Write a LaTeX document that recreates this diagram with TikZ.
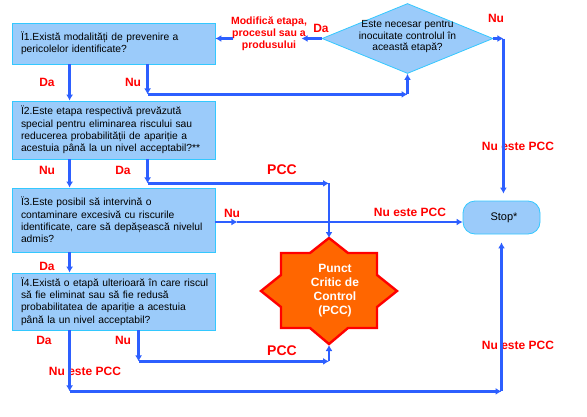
\documentclass[tikz,border=0pt]{standalone}
\usepackage{fontspec}
\setmainfont{Liberation Sans}
\usetikzlibrary{shapes.geometric,arrows.meta}
\definecolor{boxfill}{RGB}{155,203,250}
\definecolor{boxline}{RGB}{51,200,255}
\definecolor{flowblue}{RGB}{45,95,255}
\definecolor{labred}{RGB}{255,0,0}
\definecolor{starfill}{RGB}{255,102,0}
\tikzset{
  qbox/.style={draw=boxline, fill=boxfill, line width=0.8pt, rectangle, minimum width=203pt,
    text width=185pt, inner xsep=9pt, align=left, font=\fontsize{10.3}{12.3}\selectfont},
  flow/.style={draw=flowblue, line width=2.6pt, ->},
  lbl/.style={text=labred, font=\bfseries\fontsize{12}{14}\selectfont, inner sep=0pt},
  pcclbl/.style={text=labred, font=\bfseries\fontsize{14}{16}\selectfont, inner sep=0pt}
}
\begin{document}
\begin{tikzpicture}[x=1pt,y=-1pt,>={Latex[length=6pt,width=7pt]}]
\useasboundingbox (0,0) rectangle (587,416);

% questions
\node(i1)[qbox, minimum height=41pt] at (113.5,43.5) {Ï1.Există modalități de prevenire a\\pericolelor identificate?};
\node(i2)[qbox, minimum height=58pt] at (113.5,130) {Ï2.Este etapa respectivă prevăzută\\special pentru eliminarea riscului sau\\reducerea probabilității de apariție a\\acestuia până la un nivel acceptabil?**};
\node(i3)[qbox, minimum height=64pt] at (113.5,220) {Ï3.Este posibil să intervină o\\contaminare excesivă cu riscurile\\identificate, care să depășească nivelul\\admis?};
\node(i4)[qbox, minimum height=57pt] at (113.5,301.5) {\mbox{Ï4.Există o etapă ulterioară în care riscul}\\să fie eliminat sau să fie redusă\\probabilitatea de apariție a acestuia\\până la un nivel acceptabil?};

\node(q)[diamond, draw=boxline, fill=boxfill, line width=0.8pt, inner sep=0pt, minimum width=171pt, minimum height=70pt,
  label={[align=center, font=\fontsize{10.3}{11.5}\selectfont, yshift=1.5pt]center:Este necesar pentru\\inocuitate controlul în\\această etapă?}] at (407.5,38.5) {};

\node(stop)[draw=boxline, fill=boxfill, line width=0.8pt, rounded corners=12pt, minimum width=77pt, minimum height=33pt,
  font=\fontsize{11}{13}\selectfont] at (501.5,217.5) {\hspace{5pt}Stop*};

% star
\draw[draw=red, fill=starfill, line width=2.4pt, line join=miter]
  (329,238) -- (348,253) -- (377,253) -- (377,275) -- (397,291) -- (377,307) -- (377,328) -- (348,328)
  -- (329,344) -- (310,328) -- (281,328) -- (281,307) -- (261,291) -- (281,275) -- (281,253) -- (310,253) -- cycle;
\node(pcc)[align=center, text=white, font=\bfseries\fontsize{12}{14}\selectfont] at (335,291) {Punct\\Critic de\\Control\\(PCC)};
\coordinate(startop) at (329,238);
\coordinate(starbot) at (329,345);

% labels
\node(mod)[lbl, align=center, font=\bfseries\fontsize{10.5}{12}\selectfont] at (269,34) {Modifică etapa,\\procesul sau a\\produsului};
\node(lda0)[lbl] at (321,28) {Da};
\node(lnu0)[lbl] at (496,18) {Nu};
\node(lda1)[lbl] at (47,82) {Da};
\node(lnu1)[lbl] at (133,82) {Nu};
\node(lnu2)[lbl] at (47,170) {Nu};
\node(lda2)[lbl] at (123,170) {Da};
\node(lpcc2)[pcclbl] at (282,170) {PCC};
\node(lnu3)[lbl] at (232,213) {Nu};
\node(lnp3)[lbl] at (410,212) {Nu este PCC};
\node(lnp0)[lbl] at (518,146) {Nu este PCC};
\node(lda3)[lbl] at (47,266) {Da};
\node(lda4)[lbl] at (44,340) {Da};
\node(lnu4)[lbl] at (123,340) {Nu};
\node(lpcc4)[pcclbl] at (282,351) {PCC};
\node(lnp4)[lbl] at (85,371) {Nu este PCC};
\node(lnp5)[lbl] at (518,345) {Nu este PCC};

% connectors
\draw[flow] ([xshift=58pt]i1.south west) -- ([xshift=58pt]i2.north west);
\draw[flow] ([xshift=136pt]i1.south west) -- ++(0,30) coordinate (nu1);
\draw[flow] (nu1) -- (nu1 -| q.south);
\draw[flow] (nu1 -| q.south) -- (q.south);

\draw[flow] (q.west) -- ++(-20,0);
\draw[flow] ([xshift=18pt]i1.east |- q.west) -- (i1.east |- q.west);
\draw[flow] (q.east) -- ++(10,0) coordinate (nu0);
\draw[flow, shorten >=7pt] (nu0) -- (nu0 |- stop.north);

\draw[flow] ([xshift=58pt]i2.south west) -- ([xshift=58pt]i3.north west);
\draw[flow] ([xshift=136pt]i2.south west) -- ++(0,24) coordinate (da2);
\draw[flow] (da2) -- (da2 -| startop);
\draw[flow] (da2 -| startop) -- (startop);

\draw[flow] ([yshift=-2pt]i3.east) -- ++(22,0) coordinate (nu3);
\draw[flow] (nu3) -- (stop.west |- nu3);

\draw[flow] ([xshift=58pt]i3.south west) -- ([xshift=58pt]i4.north west);
\draw[flow] ([xshift=127pt]i4.south west) -- ++(0,31) coordinate (nu4);
\draw[flow] (nu4) -- (nu4 -| starbot);
\draw[flow] (nu4 -| starbot) -- (starbot);
\draw[flow] ([xshift=58pt]i4.south west) -- ++(0,61) coordinate (da4);
\draw[flow] (da4) -- (da4 -| stop.south);
\draw[flow, shorten >=8pt] (da4 -| stop.south) -- (stop.south);
\end{tikzpicture}
\end{document}
